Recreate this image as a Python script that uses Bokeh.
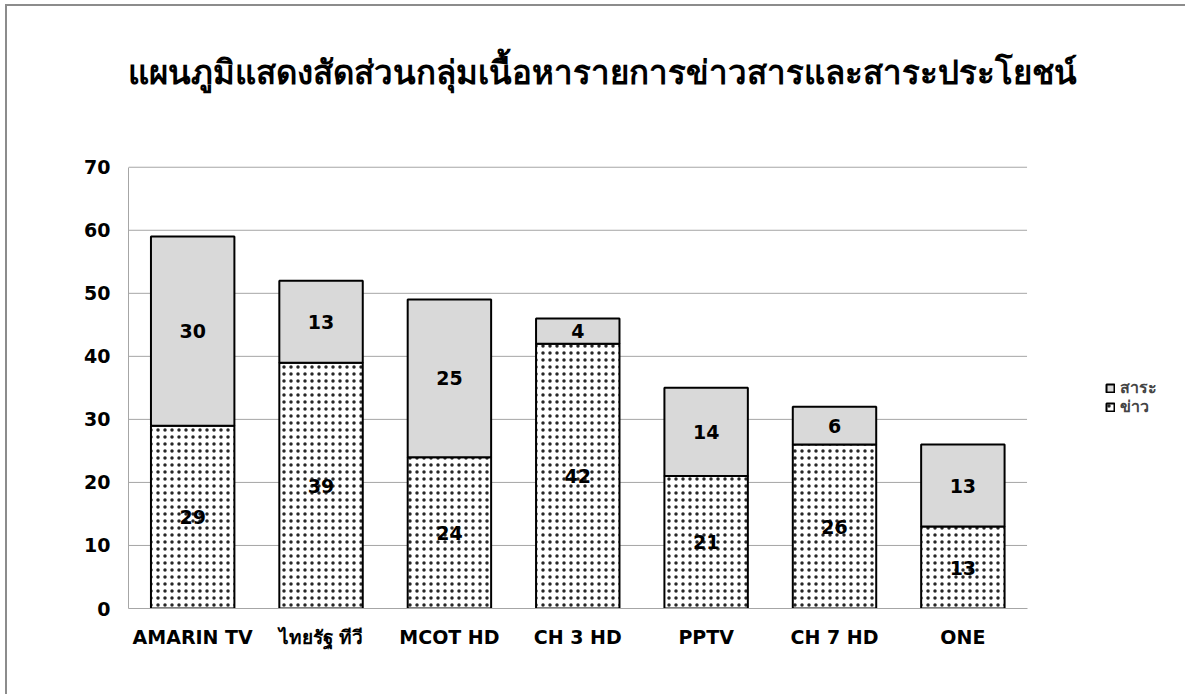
from bokeh.plotting import figure
from bokeh.models import (ColumnDataSource, LabelSet, Label, Legend, LegendItem,
                          FixedTicker, Range1d)
from bokeh.embed import file_html
from bokeh.resources import INLINE
from bokeh.core.properties import value

channels = ["AMARIN TV", "ไทยรัฐ ทีวี", "MCOT HD", "CH 3 HD", "PPTV", "CH 7 HD", "ONE"]
news = [29, 39, 24, 42, 21, 26, 13]      # ข่าว
info = [30, 13, 25, 4, 14, 6, 13]        # สาระ
y_ticks = [0, 10, 20, 30, 40, 50, 60, 70]
title_text = "แผนภูมิแสดงสัดส่วนกลุ่มเนื้อหารายการข่าวสารและสาระประโยชน์"

FONT = "DejaVu Sans"
n = len(channels)
y_max = y_ticks[-1]
xpos = [i + 0.5 for i in range(n)]   # category slots on a numeric axis

src = ColumnDataSource(dict(
    x=xpos,
    news=news,
    info=info,
    top=[a + b for a, b in zip(news, info)],
    news_mid=[a / 2 for a in news],
    info_mid=[a + b / 2 for a, b in zip(news, info)],
    news_lbl=[str(v) for v in news],
    info_lbl=[str(v) for v in info],
))
grid_src = ColumnDataSource(dict(y=y_ticks[1:], x0=[0] * (len(y_ticks) - 1),
                                 x1=[n] * (len(y_ticks) - 1)))

# frame is widened to the right / upwards so that title and legend live inside it
p = figure(x_range=Range1d(0, 8.25), y_range=Range1d(0, 95.5), width=1180, height=690,
           output_backend="svg", toolbar_location=None,
           min_border_left=121, min_border_top=0, min_border_right=0, min_border_bottom=88)
p.styles = {"border-left": "2px solid #8c8c8c", "border-top": "2px solid #8c8c8c",
            "margin-left": "5px", "margin-top": "4px"}
p.outline_line_color = None
p.xgrid.grid_line_color = None
p.ygrid.grid_line_color = None

p.segment(x0="x0", x1="x1", y0="y", y1="y", source=grid_src,
          line_color="#a6a6a6", line_width=1, level="underlay")

r_news = p.vbar(x="x", bottom=0, top="news", width=0.65, source=src,
                fill_color="white", line_color="black", line_width=2,
                hatch_pattern="dot", hatch_color="black", hatch_scale=7,
                hatch_weight=0.25, hatch_alpha=0.85)
r_info = p.vbar(x="x", bottom="news", top="top", width=0.65, source=src,
                fill_color="#d9d9d9", line_color="black", line_width=2)

for col, lab in (("news_mid", "news_lbl"), ("info_mid", "info_lbl")):
    p.add_layout(LabelSet(x="x", y=col, text=lab, source=src,
                          text_align="center", text_baseline="middle",
                          text_font=value(FONT), text_font_style="bold",
                          text_font_size="19px", text_color="black"))

p.yaxis.ticker = FixedTicker(ticks=y_ticks)
p.yaxis.bounds = (0, y_max)
p.xaxis.ticker = FixedTicker(ticks=xpos)
p.xaxis.major_label_overrides = {x: c for x, c in zip(xpos, channels)}
p.xaxis.bounds = (0, n)
for ax in (p.xaxis, p.yaxis):
    ax.major_tick_line_color = None
    ax.minor_tick_line_color = None
    ax.axis_line_color = "#a6a6a6"
    ax.major_label_text_font = FONT
    ax.major_label_text_font_style = "bold"
    ax.major_label_text_color = "black"
p.yaxis.major_label_text_font_size = "19px"
p.xaxis.major_label_text_font_size = "19px"
p.yaxis.major_label_standoff = 12
p.xaxis.major_label_standoff = 11

p.add_layout(Label(x=n / 2, y=y_max, x_offset=25, y_offset=95, text=title_text,
                   text_align="center", text_baseline="middle",
                   text_font=FONT, text_font_style="bold",
                   text_font_size="33px", text_color="black"))

legend_common = dict(glyph_width=10, glyph_height=10,
                     label_text_font=FONT, label_text_font_style="bold",
                     label_text_font_size="16px", label_height=14, spacing=0, padding=0,
                     margin=0, label_standoff=5, border_line_color=None,
                     background_fill_alpha=0)
leg_info = Legend(items=[LegendItem(label="สาระ", renderers=[r_info])],
                  location=(977, 208), **legend_common)
leg_news = Legend(items=[LegendItem(label="ข่าว", renderers=[r_news])],
                  location=(977, 189), **legend_common)
p.add_layout(leg_info, "center")
p.add_layout(leg_news, "center")

open("out.html", "w").write(file_html(p, INLINE))
